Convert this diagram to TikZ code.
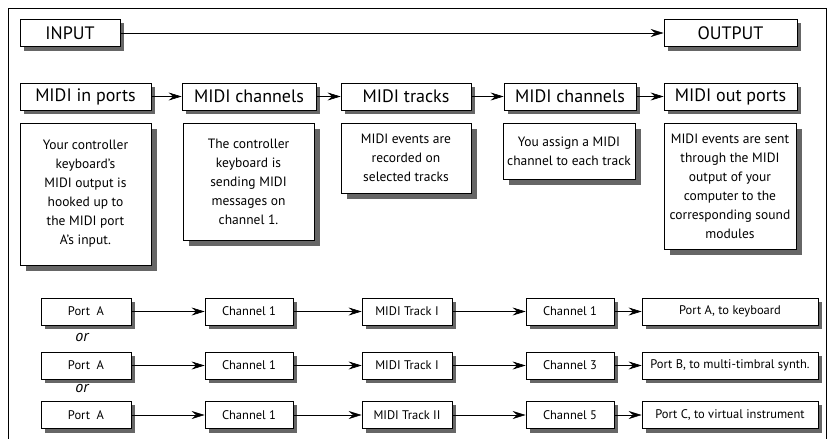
\documentclass[tikz,border=0pt]{standalone}
\usepackage{fontspec}
\setmainfont{PT Sans}
\usetikzlibrary{arrows.meta,backgrounds}
\begin{document}
\begin{tikzpicture}
[x=1pt,y=-1pt,
  boxdecorate/.style={draw,thick,fill=white,inner sep=1pt,minimum height=27pt,font=\fontsize{18}{20}\selectfont},%
  smalldecorate/.style={boxdecorate,font=\fontsize{12.5}{15}\selectfont},
  notedecorate/.style={draw,thick,fill=white,inner sep=1pt,align=center,font=\fontsize{13.5}{19}\selectfont},
  boxshadow/.style={fill=black!60},
  noteshadow/.style={fill=black!60},
  arrowline/.style={-{Stealth[length=13pt,width=8pt,inset=4.5pt]},semithick}]
\useasboundingbox (0,0) rectangle (830,439);
% frame
\draw[semithick] (8,439) -- (8,8) -- (826,8) -- (826,439);
% input and output
\node (in) at (70,33) [boxdecorate,minimum width=100pt] {INPUT};
\node (out) at (730.5,33) [boxdecorate,minimum width=133pt] {OUTPUT};
% stages
\node (inports) at (85.5,96.5) [boxdecorate,minimum width=131pt] {MIDI in ports};
\node (inchan) at (249,96.5) [boxdecorate,minimum width=134pt] {MIDI channels};
\node (tracks) at (406,96.5) [boxdecorate,minimum width=130pt] {MIDI tracks};
\node (outchan) at (570,96.5) [boxdecorate,minimum width=132pt] {MIDI channels};
\node (outports) at (730.5,96.5) [boxdecorate,minimum width=133pt] {MIDI out ports};
% notes
\node (note1) at (85.5,194) [notedecorate,minimum width=131pt,minimum height=142pt]
  {Your controller\\keyboard's\\MIDI output is\\hooked up to\\the MIDI port\\A's input.};
\node (note2) at (248.5,181.5) [notedecorate,minimum width=131pt,minimum height=117pt]
  {The controller\\keyboard is\\sending MIDI\\messages on\\channel 1.};
\node (note3) at (406,158) [notedecorate,minimum width=130pt,minimum height=70pt]
  {MIDI events are\\recorded on\\selected tracks};
\node (note4) at (569,151) [notedecorate,minimum width=132pt,minimum height=56pt]
  {You assign a MIDI\\channel to each track};
\node (note5) at (730,186) [notedecorate,minimum width=132pt,minimum height=126pt]
  {MIDI events are sent\\through the MIDI\\output of your\\computer to the\\corresponding sound\\modules};
% first example
\node (a1) at (86,311.5) [smalldecorate,minimum width=90pt] {Port\ \ A};
\node (b1) at (249,311.5) [smalldecorate,minimum width=88pt] {Channel 1};
\node (c1) at (407,311.5) [smalldecorate,minimum width=90pt] {MIDI Track I};
\node (d1) at (570,311.5) [smalldecorate,minimum width=88pt] {Channel 1};
\node (e1) at (730,311.5) [smalldecorate,minimum width=176pt] {Port A, to keyboard};
\node (or1) at (82,337) [font=\fontsize{16}{18}\selectfont\itshape] {or};
% second example
\node (a2) at (86,365.5) [smalldecorate,minimum width=90pt] {Port\ \ A};
\node (b2) at (249,365.5) [smalldecorate,minimum width=88pt] {Channel 1};
\node (c2) at (407,365.5) [smalldecorate,minimum width=90pt] {MIDI Track I};
\node (d2) at (570,365.5) [smalldecorate,minimum width=88pt] {Channel 3};
\node (e2) at (730,365.5) [smalldecorate,minimum width=176pt] {Port B, to multi-timbral synth.};
\node (or2) at (82,388) [font=\fontsize{16}{18}\selectfont\itshape] {or};
% third example
\node (a3) at (86,415) [smalldecorate,minimum width=90pt] {Port\ \ A};
\node (b3) at (249,415) [smalldecorate,minimum width=88pt] {Channel 1};
\node (c3) at (407,415) [smalldecorate,minimum width=90pt] {MIDI Track II};
\node (d3) at (570,415) [smalldecorate,minimum width=88pt] {Channel 5};
\node (e3) at (730,415) [smalldecorate,minimum width=176pt] {Port C, to virtual instrument};
% shadows
\begin{pgfonlayer}{background}
\foreach \n in {in,out,inports,inchan,tracks,outchan,outports,a1,b1,c1,d1,e1,a2,b2,c2,d2,e2,a3,b3,c3,d3,e3}
  \fill[boxshadow] ([shift={(4pt,-4pt)}]\n.south west) rectangle ([shift={(4pt,-4pt)}]\n.north east);
\foreach \n in {note1,note2,note3,note4,note5}
  \fill[noteshadow] ([shift={(6pt,-6pt)}]\n.south west) rectangle ([shift={(6pt,-6pt)}]\n.north east);
\end{pgfonlayer}
% arrows
\path
(in) edge[arrowline] (out)
(inports) edge[arrowline] (inchan)
(inchan) edge[arrowline] (tracks)
(tracks) edge[arrowline] (outchan)
(outchan) edge[arrowline] (outports)
(a1) edge[arrowline] (b1)
(b1) edge[arrowline] (c1)
(c1) edge[arrowline] (d1)
(d1) edge[arrowline] (e1)
(a2) edge[arrowline] (b2)
(b2) edge[arrowline] (c2)
(c2) edge[arrowline] (d2)
(d2) edge[arrowline] (e2)
(a3) edge[arrowline] (b3)
(b3) edge[arrowline] (c3)
(c3) edge[arrowline] (d3)
(d3) edge[arrowline] (e3);
\end{tikzpicture}
\end{document}
